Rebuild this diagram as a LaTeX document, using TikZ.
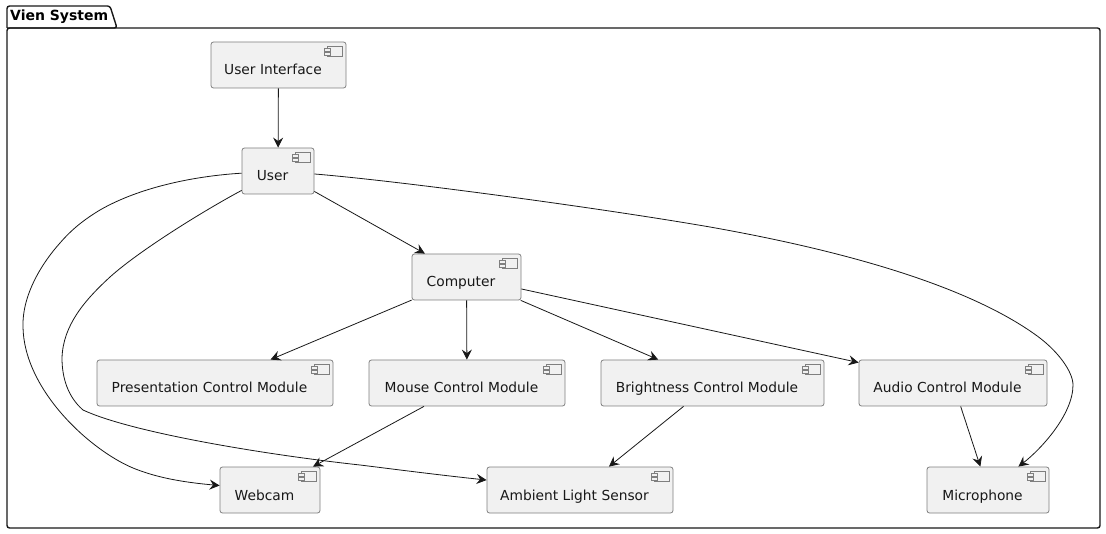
\documentclass[tikz,border=0pt]{standalone}
\usepackage{fontspec}
\setmainfont{DejaVu Sans}
\usetikzlibrary{arrows.meta}
\definecolor{boxfill}{HTML}{F1F1F1}
\definecolor{boxline}{HTML}{7F7F7F}
\definecolor{linkline}{HTML}{181818}
\tikzset{
  comp/.style={draw=boxline, fill=boxfill, line width=0.8pt, rounded corners=2.5pt, inner xsep=12pt, inner ysep=0pt,
    minimum height=46pt, text=linkline, text height=22pt, text depth=2pt,
    font=\fontsize{13.8}{16}\selectfont, execute at end node={\hspace{11pt}}},
  link/.style={->, draw=linkline, line width=0.8pt},
  compicon/.pic={
    \draw[boxline, line width=0.7pt, fill=boxfill] (-19,5) rectangle (-4,15);
    \draw[boxline, line width=0.7pt, fill=boxfill] (-22,7) rectangle (-16,10);
    \draw[boxline, line width=0.7pt, fill=boxfill] (-22,11) rectangle (-16,14);
  }
}
\begin{document}
\begin{tikzpicture}[x=1pt, y=-1pt, >={Stealth[length=10pt,width=10pt,inset=3.5pt]}]
  \useasboundingbox (0,0) rectangle (1106,534);

  % package frame
  \draw[linkline, line width=1.4pt, rounded corners=2.5pt] (7,28) -- (7,6) -- (110,6) -- (117,28) -- (7,28);
  \draw[linkline, line width=1.4pt, rounded corners=2.5pt] (7,28) -- (1100,28) -- (1100,528) -- (7,528) -- cycle;
  \node[anchor=base west, inner sep=0pt, text=black, font=\fontsize{14}{16}\selectfont\bfseries] (vien) at (10,21) {Vien System};

  % components
  \node[comp, minimum width=135pt] (ui) at (278.5,65) {User Interface};
  \node[comp, minimum width=72pt] (user) at (278,171) {User};
  \node[comp, minimum width=109pt] (computer) at (466.5,277) {Computer};
  \node[comp, minimum width=236pt] (presentation) at (215,383) {Presentation Control Module};
  \node[comp, minimum width=196pt] (mouse) at (467,383) {Mouse Control Module};
  \node[comp, minimum width=223pt] (brightness) at (712.5,383) {Brightness Control Module};
  \node[comp, minimum width=188pt] (audio) at (953,383) {Audio Control Module};
  \node[comp, minimum width=100pt] (webcam) at (270,490) {Webcam};
  \node[comp, minimum width=186pt] (ambient) at (580,490) {Ambient Light Sensor};
  \node[comp, minimum width=122pt] (microphone) at (988,490) {Microphone};

  \foreach \n in {ui,user,computer,presentation,mouse,brightness,audio,webcam,ambient,microphone}
    \pic at (\n.north east) {compicon};

  % straight links
  \draw[link] (ui) -- (user);
  \draw[link] (user) -- (computer);
  \draw[link] (computer) -- (presentation);
  \draw[link] (computer) -- (mouse);
  \draw[link] (computer) -- (brightness);
  \draw[link] (computer) -- (audio);
  \draw[link] (mouse) -- (webcam);
  \draw[link] (brightness) -- (ambient);
  \draw[link] (audio) -- (microphone);

  % long links
  \draw[link] (user) .. controls (195,176) and (140,187) .. (100,210)
     .. controls (85,219) and (72,229) .. (60,243)
     .. controls (42,263) and (22,295) .. (23,327)
     .. controls (24,390) and (90,450) .. (133,468)
     .. controls (155,477) and (180,482) .. (webcam);
  \draw[link] (user) .. controls (205,210) and (140,250) .. (110,277)
     .. controls (85,300) and (63,325) .. (62,358)
     .. controls (62,378) and (68,397) .. (83,410)
     .. controls (130,432) and (260,454) .. (360,465)
     .. controls (385,468) and (430,474) .. (ambient);
  \draw[link] (user) .. controls (400,181) and (600,208) .. (710,227)
     .. controls (800,243) and (950,275) .. (1033,333)
     .. controls (1058,350) and (1073,372) .. (1073,385)
     .. controls (1073,415) and (1040,450) .. (microphone);
\end{tikzpicture}
\end{document}
